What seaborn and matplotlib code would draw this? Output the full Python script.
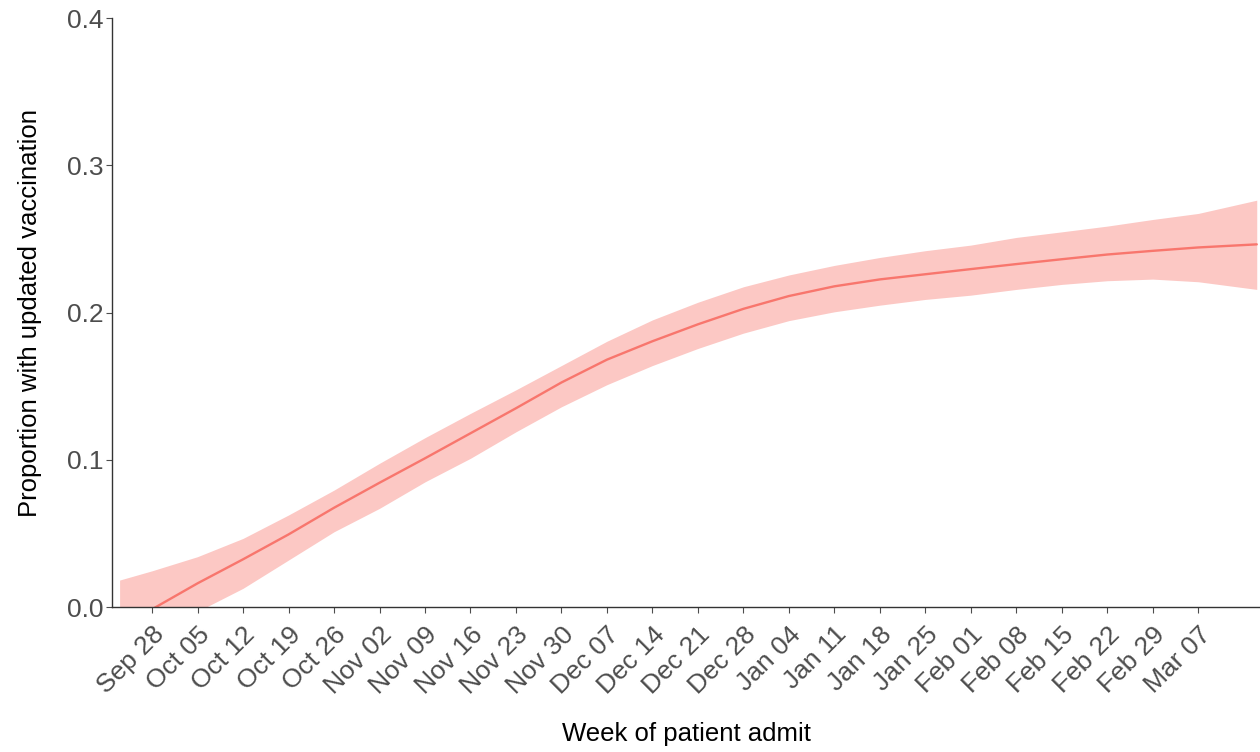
import pandas as pd
import seaborn as sns
import matplotlib.pyplot as plt

sns.set_style("white")
plt.rcParams["font.family"] = ["Liberation Sans", "DejaVu Sans"]

# smoothed fit with confidence band
week = [
    "2023-09-23", "2023-09-28", "2023-10-05", "2023-10-12", "2023-10-19",
    "2023-10-26", "2023-11-02", "2023-11-09", "2023-11-16", "2023-11-23",
    "2023-11-30", "2023-12-07", "2023-12-14", "2023-12-21", "2023-12-28",
    "2024-01-04", "2024-01-11", "2024-01-18", "2024-01-25", "2024-02-01",
    "2024-02-08", "2024-02-15", "2024-02-22", "2024-02-29", "2024-03-07",
    "2024-03-16",
]
fit = [
    -0.014, -0.0015, 0.0161, 0.0324, 0.0493,
    0.0674, 0.0844, 0.101, 0.118, 0.135,
    0.1525, 0.168, 0.1805, 0.192, 0.2025,
    0.2112, 0.2178, 0.2225, 0.226, 0.2295,
    0.2329, 0.2362, 0.2394, 0.2419, 0.2442,
    0.2463,
]
lower = [
    -0.046, -0.027, -0.003, 0.0127, 0.0319,
    0.0511, 0.067, 0.085, 0.101, 0.119,
    0.136, 0.151, 0.164, 0.1756, 0.186,
    0.1945, 0.2005, 0.205, 0.2089, 0.2118,
    0.2157, 0.2191, 0.2216, 0.2227, 0.2209,
    0.2157,
]
upper = [
    0.0183, 0.0246, 0.0342, 0.0466, 0.0625,
    0.0794, 0.0976, 0.115, 0.1315, 0.1475,
    0.164, 0.1805, 0.195, 0.207, 0.2175,
    0.2255, 0.232, 0.2374, 0.242, 0.2458,
    0.251, 0.2548, 0.2587, 0.2632, 0.2673,
    0.2763,
]

tick_dates = [
    "2023-09-28", "2023-10-05", "2023-10-12", "2023-10-19", "2023-10-26",
    "2023-11-02", "2023-11-09", "2023-11-16", "2023-11-23", "2023-11-30",
    "2023-12-07", "2023-12-14", "2023-12-21", "2023-12-28", "2024-01-04",
    "2024-01-11", "2024-01-18", "2024-01-25", "2024-02-01", "2024-02-08",
    "2024-02-15", "2024-02-22", "2024-02-29", "2024-03-07",
]
y_ticks = [0.0, 0.1, 0.2, 0.3, 0.4]

df = pd.DataFrame({
    "week": pd.to_datetime(week),
    "fit": fit,
    "lower": lower,
    "upper": upper,
})

fig = plt.figure(figsize=(12.6, 7.52), dpi=100)
ax = fig.add_axes([0.0889, 0.1928, 0.9111, 0.7832])

red = "#F8766D"
ax.fill_between(df["week"], df["lower"], df["upper"], color=red, alpha=0.4, lw=0)
sns.lineplot(data=df, x="week", y="fit", color=red, lw=1.7, ax=ax)

ax.set_ylim(0, 0.4)
ax.set_yticks(y_ticks)
ax.set_yticklabels([f"{v:.1f}" for v in y_ticks])
ax.set_xlim(pd.Timestamp("2023-09-21 20:00"), pd.Timestamp("2024-03-16 12:00"))
ticks = pd.to_datetime(tick_dates)
ax.set_xticks(ticks)
ax.set_xticklabels([t.strftime("%b %d") for t in ticks], rotation=45,
                   ha="right", rotation_mode="anchor")

ax.tick_params(axis="both", colors="#4D4D4D", labelsize=19, length=4,
               width=0.8, direction="out", left=True, bottom=True)
ax.tick_params(axis="y", pad=2)
ax.tick_params(axis="x", pad=7)

for side in ["top", "right"]:
    ax.spines[side].set_visible(False)
for side in ["left", "bottom"]:
    ax.spines[side].set_color("#333333")
    ax.spines[side].set_linewidth(1.0)

ax.set_xlabel("Week of patient admit", fontsize=18.5, color="black", labelpad=17)
ax.set_ylabel("Proportion with updated vaccination", fontsize=18.5, color="black",
              labelpad=18)

fig.savefig("out.png", dpi=100)
